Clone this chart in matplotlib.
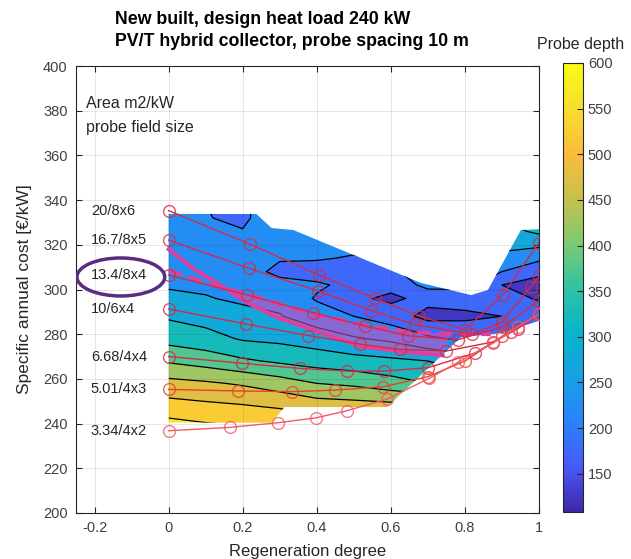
import numpy as np
import matplotlib
matplotlib.use('Agg')
import matplotlib.pyplot as plt
from matplotlib.colors import LinearSegmentedColormap, Normalize
from matplotlib.patches import Polygon, Ellipse
import matplotlib.cm as cm

plt.rcParams['font.family'] = ['Liberation Sans', 'DejaVu Sans']

# probe depth field
regen = [0, 0.1, 0.2, 0.3, 0.4, 0.5, 0.6, 0.7, 0.8, 0.9, 1.0]
cost = [238, 248, 258, 268, 278, 288, 296, 302, 308, 314, 320, 326, 332, 338]
# rows = cost, columns = regen
depth = [
    [576, 563, 555, 555, 540, 530, 520, 510, 500, 490, 480],
    [518, 510, 503, 492, 475, 470, 465, 460, 430, 410, 390],
    [466, 457, 444, 424, 400, 390, 370, 350, 330, 320, 310],
    [394, 378, 358, 342, 328, 318, 310, 300, 280, 270, 260],
    [332, 319, 295, 288, 275, 255, 240, 210, 190, 200, 220],
    [294, 280, 265, 253, 225, 200, 175, 135, 140, 150, 180],
    [261, 253, 242, 235, 195, 160, 140, 165, 170, 170, 145],
    [245, 242, 233, 220, 208, 185, 165, 215, 215, 150, 125],
    [238, 233, 226, 185, 175, 150, 190, 230, 230, 200, 165],
    [232, 225, 220, 205, 205, 195, 210, 240, 240, 240, 210],
    [226, 217, 212, 225, 225, 215, 220, 245, 245, 260, 260],
    [221, 208, 202, 228, 230, 222, 225, 248, 250, 280, 310],
    [216, 202, 192, 230, 232, 225, 228, 250, 255, 300, 340],
    [212, 200, 190, 232, 235, 228, 230, 250, 260, 310, 350],
]
levels = [100, 150, 200, 250, 300, 350, 400, 450, 500, 550, 600]

# outline of the area that has results
area_x = [0, 0.278, 0.313, 0.59, 0.79, 0.9, 1.0, 1.0, 0.951, 0.862, 0.817, 0.682, 0.337, 0.278, 0.237, 0]
area_y = [240.5, 240.4, 247.4, 247.4, 278.7, 280.5, 286, 327, 326.6, 299.8, 297.5, 302.9, 326.6, 327.5, 333.8, 333.8]

# cost curves per probe field
curves = [
    ('20/8x6', [0, 0.221, 0.406, 0.556, 0.677, 0.80, 0.902, 1.0],
     [335.3, 320.2, 306.5, 296.1, 288.1, 282.0, 297.5, 321.0]),
    ('16.7/8x5', [0, 0.217, 0.402, 0.547, 0.664, 0.82, 0.90, 0.978, 1.0],
     [322.1, 309.5, 299.4, 290.6, 284.4, 280.0, 285.5, 301.3, 306.0]),
    ('13.4/8x4', [0, 0.213, 0.39, 0.529, 0.646, 0.78, 0.902, 1.0],
     [306.5, 297.5, 289.6, 283.7, 279.3, 277.5, 283.4, 295.0]),
    ('10/6x4', [0, 0.208, 0.377, 0.516, 0.624, 0.75, 0.875, 0.943, 1.0],
     [291.3, 284.6, 279.4, 275.6, 273.2, 272.5, 276.5, 282.5, 289.0]),
    ('6.68/4x4', [0, 0.198, 0.355, 0.482, 0.581, 0.70, 0.826, 0.925, 1.0],
     [270.0, 267.0, 264.7, 263.5, 263.5, 265.0, 271.5, 281.1, 289.0]),
    ('5.01/4x3', [0, 0.187, 0.334, 0.45, 0.58, 0.70, 0.80, 0.90, 1.0],
     [255.3, 254.6, 254.3, 255.0, 256.5, 261.0, 268.0, 279.0, 289.0]),
    ('3.34/4x2', [0, 0.165, 0.296, 0.399, 0.482, 0.59, 0.704, 0.781, 0.875, 0.943, 1.0],
     [236.8, 238.3, 240.4, 242.6, 245.8, 251.0, 260.3, 267.4, 275.9, 283.4, 289.0]),
]
curve_colors = ['#d42a48', '#d42a48', '#d42a48', '#d42a48', '#d42a48', '#e8402a', '#f25a66']

# optimum lines
solid_x = [0, 0.07, 0.155, 0.224, 0.30, 0.38, 0.52, 0.64, 0.74]
solid_y = [318, 309, 300.3, 293, 287, 282.5, 274.5, 272, 270.5]
dash_x = [0, 0.155, 0.2, 0.38, 0.53, 0.65, 0.76, 0.87]
dash_y = [308.5, 300.3, 298.5, 289.5, 284, 281, 280.2, 280]

# parula colormap (11 samples)
parula_rgb = [(0.2422, 0.1504, 0.6603), (0.2780, 0.3556, 0.9777), (0.1651, 0.5113, 0.9861),
              (0.0939, 0.6286, 0.8954), (0.0263, 0.7082, 0.7906), (0.1904, 0.7641, 0.6389),
              (0.4961, 0.7945, 0.4452), (0.7790, 0.7538, 0.2932), (0.9869, 0.7362, 0.2385),
              (0.9667, 0.8682, 0.1781), (0.9769, 0.9839, 0.0805)]
parula = LinearSegmentedColormap.from_list('parula', parula_rgb)
norm = Normalize(108, 600)

fig = plt.figure(figsize=(6.31, 5.59), dpi=100)
ax = fig.add_axes([76/631, 46/559, 463/631, 447/559])

X, Y = np.meshgrid(regen, cost)
Z = np.array(depth, dtype=float)
clip = Polygon(list(zip(area_x, area_y)), closed=True, facecolor='none', edgecolor='none')
ax.add_patch(clip)
cf = ax.contourf(X, Y, Z, levels=levels, cmap=parula, norm=norm, zorder=1)
cl = ax.contour(X, Y, Z, levels=levels[1:-1], colors='k', linewidths=0.9, zorder=2)
cf.set_clip_path(clip)
cl.set_clip_path(clip)

# shaded band between the two optimum lines
shade = list(zip(dash_x[1:7], dash_y[1:7])) + list(zip(solid_x[3:][::-1], solid_y[3:][::-1]))
ax.add_patch(Polygon(shade, closed=True, facecolor=(0.85, 0.3, 0.75), alpha=0.55,
                     edgecolor='none', zorder=3))

for (name, xs, ys), col in zip(curves, curve_colors):
    ax.plot(xs, ys, '-', color=col, lw=1.0, zorder=5)
    ax.plot(xs, ys, 'o', mfc='none', mec=col, ms=8.5, mew=1.0, alpha=0.8, zorder=5)
    ax.text(-0.21, ys[0], name, fontsize=10.5, color='#262626', va='center', ha='left')

ax.plot(solid_x, solid_y, '-', color='#e0409c', lw=2.8, zorder=4)
ax.plot(dash_x, dash_y, color='#e0409c', lw=2.8, ls=(0, (3.5, 2)), zorder=4)

ax.add_patch(Ellipse((-0.129, 305.6), 0.237, 17, fill=False, edgecolor='#5b2d80', lw=2.5, zorder=6))

ax.text(-0.224, 383.4, 'Area m2/kW', fontsize=11.5, color='#262626', va='center')
ax.text(-0.224, 372.7, 'probe field size', fontsize=11.5, color='#262626', va='center')

ax.set_xlim(-0.25, 1)
ax.set_ylim(200, 400)
ax.set_xticks([-0.2, 0, 0.2, 0.4, 0.6, 0.8, 1])
ax.set_xticklabels(['-0.2', '0', '0.2', '0.4', '0.6', '0.8', '1'])
ax.set_yticks(range(200, 401, 20))
ax.grid(True, color='#262626', alpha=0.13, lw=0.6, zorder=7)
ax.set_axisbelow(False)
ax.tick_params(direction='in', top=True, right=True, length=4, labelsize=10.5, pad=6,
               colors='#262626', labelcolor='#404040')
for s in ax.spines.values():
    s.set_color('#262626')
    s.set_linewidth(0.8)
ax.set_xlabel('Regeneration degree', fontsize=12, color='#262626', labelpad=6)
ax.set_ylabel('Specific annual cost [\u20ac/kW]', fontsize=12.5, color='#262626', labelpad=8)

fig.text(115/631, 1 - 20/559, 'New built, design heat load 240 kW', fontsize=12.8,
         fontweight='bold', va='center', ha='left')
fig.text(115/631, 1 - 42/559, 'PV/T hybrid collector, probe spacing 10 m', fontsize=12.8,
         fontweight='bold', va='center', ha='left')

cax = fig.add_axes([563/631, 47/559, 20/631, 449/559])
sm = cm.ScalarMappable(norm=norm, cmap=parula)
cb = fig.colorbar(sm, cax=cax, ticks=range(150, 601, 50))
cb.ax.tick_params(direction='in', length=4, labelsize=10.5, colors='#262626', labelcolor='#404040')
cb.outline.set_edgecolor('#262626')
cb.outline.set_linewidth(0.8)
fig.text(581/631, 1 - 44/559, 'Probe depth', fontsize=11.5, color='#262626', ha='center', va='center')

fig.savefig('out.png', dpi=100)
